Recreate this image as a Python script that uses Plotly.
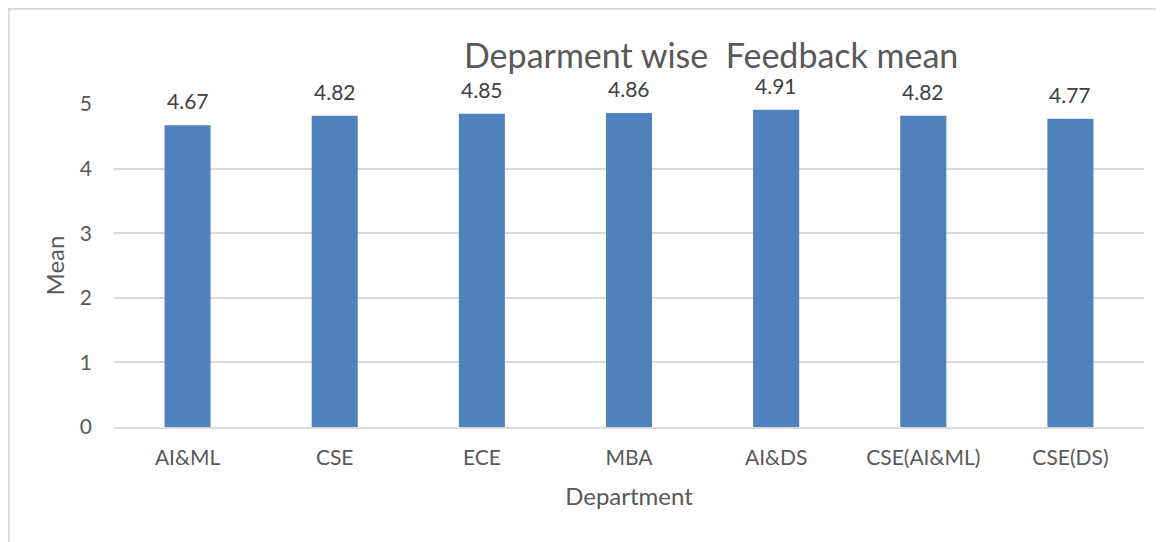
import plotly.graph_objects as go

departments = ["AI&ML", "CSE", "ECE", "MBA", "AI&DS", "CSE(AI&ML)", "CSE(DS)"]
means = [4.67, 4.82, 4.85, 4.86, 4.91, 4.82, 4.77]
y_ticks = [0, 1, 2, 3, 4, 5]

# page has an 8px body margin, so the figure is laid out in shifted coordinates
W, H = 1156, 534
L, R, T, B = 106, 20, 96, 115
pw, ph = W - L - R, H - T - B

FONT = "Lato, Carlito, Calibri, sans-serif"
GREY = "#595959"

fig = go.Figure(go.Bar(
    x=departments, y=means,
    marker=dict(color="#4F81BD", line=dict(width=0)),
    hoverinfo="x+y",
))

fig.update_layout(
    width=W, height=H,
    margin=dict(l=L, r=R, t=T, b=B),
    paper_bgcolor="white", plot_bgcolor="white",
    bargap=0.687,
    showlegend=False,
    font=dict(family=FONT, color=GREY),
    xaxis=dict(
        showgrid=False, showline=True, linecolor="#D9D9D9", linewidth=1.5,
        tickfont=dict(family=FONT, size=21, color=GREY),
        ticklabelstandoff=11,
        title=dict(text="Department", font=dict(family=FONT, size=24, color=GREY), standoff=20),
    ),
    yaxis=dict(
        range=[0, 5], tickvals=y_ticks, showgrid=True, gridcolor="#D9D9D9", gridwidth=1.5,
        zeroline=False, showline=False,
        tickfont=dict(family=FONT, size=21, color=GREY),
        ticklabelstandoff=21,
        title=dict(text="Mean", font=dict(family=FONT, size=24, color=GREY), standoff=8),
    ),
    shapes=[dict(
        type="rect", xref="paper", yref="paper",
        x0=(0.75 - L) / pw, x1=(W + 10 - L) / pw,
        y0=(H - B - (H + 10)) / ph, y1=(H - B - 0.75) / ph,
        line=dict(color="#D9D9D9", width=2), fillcolor="rgba(0,0,0,0)", layer="below",
    )],
)

# data labels above bars
for d, v in zip(departments, means):
    fig.add_annotation(
        x=d, y=v, xref="x", yref="y", text=f"{v:.2f}", showarrow=False,
        yanchor="bottom", yshift=10,
        font=dict(family=FONT, size=21, color="#404040"),
    )

# chart title
fig.add_annotation(
    text="Deparment wise  Feedback mean", xref="paper", yref="paper",
    x=(703 - L) / pw, y=(H - B - 46) / ph, xanchor="center", yanchor="middle",
    showarrow=False, font=dict(family=FONT, size=34, color=GREY),
)

fig.write_html("out.html")
